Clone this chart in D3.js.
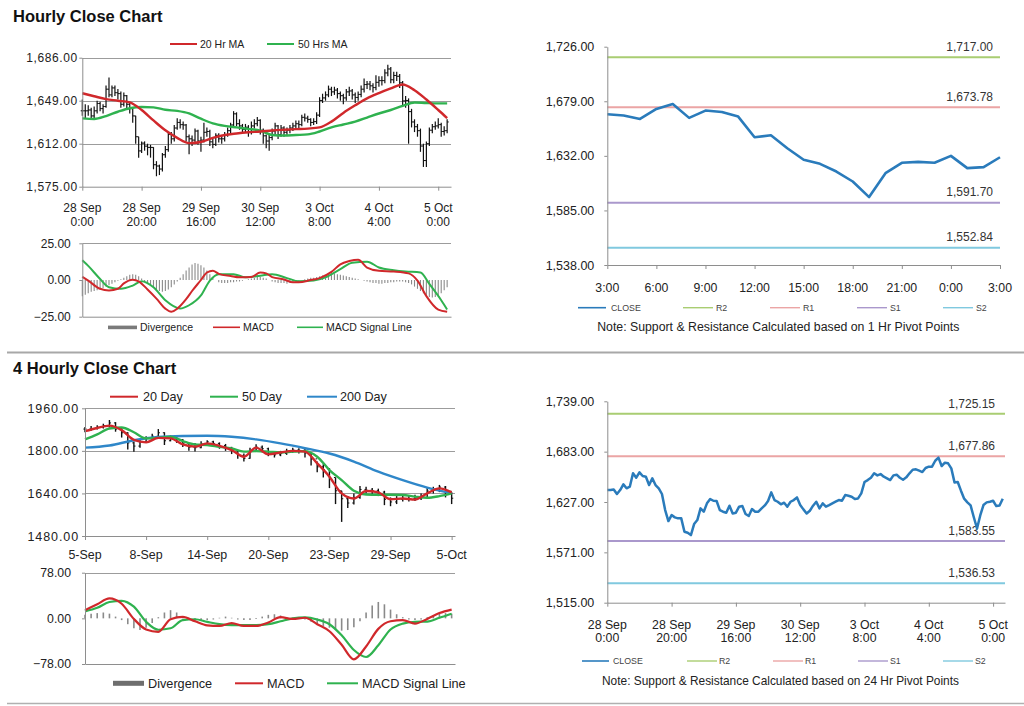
<!DOCTYPE html>
<html><head><meta charset="utf-8">
<script src="https://cdn.jsdelivr.net/npm/d3@7"></script>
<style>body{margin:0;background:#fff}svg{display:block}</style>
</head><body><svg id="chart" width="1024" height="706"></svg>
<script>
// ================= DATA =================
// Hourly bars 28 Sep 0:00 .. 5 Oct ~3:00 (shared by hourly chart and 24 Hr pivot chart)
const hourTickIdx = [0,20,40,60,80,100,120];
const hourTickDay = ["28 Sep","28 Sep","29 Sep","30 Sep","3 Oct","4 Oct","5 Oct"];
const hourTickTime = ["0:00","20:00","16:00","12:00","8:00","4:00","0:00"];
const hClose = [1640.3,1640.3,1641.0,1635.9,1640.3,1646.6,1642.2,1644.0,1658.9,1654.0,
1660.0,1655.9,1655.1,1645.9,1653.3,1645.9,1642.2,1635.9,1618.0,1605.8,
1612.5,1609.9,1608.8,1608.8,1593.9,1592.8,1590.2,1602.5,1606.9,1619.9,
1616.2,1625.5,1630.3,1628.4,1628.1,1618.0,1616.2,1615.1,1622.9,1614.3,
1615.1,1621.8,1622.5,1613.6,1611.4,1619.2,1616.2,1616.2,1619.9,1623.2,
1628.1,1637.7,1629.2,1627.3,1624.4,1626.2,1621.8,1627.3,1629.2,1632.1,
1623.6,1618.8,1614.3,1617.3,1622.9,1627.3,1619.9,1625.5,1621.8,1623.6,
1625.5,1627.3,1629.2,1628.4,1634.7,1634.0,1632.9,1630.3,1631.0,1636.6,
1649.2,1651.4,1654.0,1658.9,1656.6,1658.1,1655.1,1653.3,1651.4,1656.6,
1657.4,1654.0,1651.8,1654.4,1658.9,1662.9,1663.3,1661.8,1660.3,1664.8,
1666.3,1666.3,1672.9,1676.3,1667.0,1670.7,1670.0,1664.4,1648.8,1649.2,
1639.6,1630.7,1626.6,1623.2,1610.0,1597.5,1612.0,1623.6,1626.6,1627.3,
1628.4,1622.5,1623.2,1630.7];
const hHigh = [1650,1646,1645,1643,1644,1649,1648,1646,1662,1669,
1662,1662,1659,1657,1656,1654,1648,1643,1636,1618,
1614,1614,1612,1611,1609,1597,1594,1604,1610,1622,
1622,1628,1634,1633,1631,1629,1620,1619,1625,1624,
1618,1630,1626,1624,1616,1621,1621,1619,1622,1626,
1630,1640,1639,1633,1629,1629,1628,1631,1633,1635,
1633,1625,1620,1620,1625,1630,1628,1628,1627,1626,
1628,1630,1632,1632,1637,1638,1636,1634,1634,1639,
1652,1655,1657,1662,1661,1661,1660,1657,1655,1659,
1661,1659,1656,1657,1662,1668,1666,1666,1664,1671,
1670,1670,1676,1680,1678,1674,1674,1672,1666,1653,
1651,1642,1633,1629,1625,1612,1614,1626,1629,1631,
1634,1630,1627,1633];
const hLow = [1636,1634,1636,1633,1634,1638,1640,1638,1643,1652,
1652,1653,1650,1643,1644,1642,1638,1630,1612,1600,
1604,1606,1602,1600,1590,1584,1585,1588,1600,1605,
1612,1614,1624,1625,1624,1614,1603,1610,1613,1611,
1605,1613,1618,1610,1608,1610,1613,1612,1614,1618,
1621,1626,1627,1624,1621,1622,1618,1620,1625,1627,
1620,1612,1608,1606,1615,1620,1616,1618,1618,1619,
1621,1623,1625,1625,1627,1631,1630,1627,1628,1629,
1635,1647,1649,1652,1653,1654,1651,1649,1646,1649,
1653,1650,1647,1649,1652,1656,1659,1658,1656,1658,
1661,1662,1664,1670,1664,1664,1666,1660,1645,1643,
1612,1626,1622,1618,1605,1592,1592,1610,1621,1624,
1625,1618,1619,1621];
const maIdx = [0,4,8,12,16,20,24,28,32,36,40,44,48,52,56,60,64,68,72,76,80,84,88,92,96,100,104,108,112,116,120,123];
const ma20 = [1655.4,1652.8,1650.4,1649,1647.5,1641,1632,1623.5,1617,1612.5,1613.5,1617,1619.5,1620.8,1621.8,1622.5,
1623.4,1624,1624.5,1625,1626,1631,1638.5,1645,1651,1655.5,1659.5,1663,1658,1650,1641,1634];
const ma50 = [1633.8,1633.3,1635.8,1639.5,1642.5,1643.6,1643.3,1641.2,1640.2,1638,1633.5,1629.5,1627.3,1626,1624.8,1623.2,
1619.5,1619,1619.5,1620,1622.5,1626,1628.5,1631,1634.5,1638,1641,1644.5,1647.5,1647,1646.7,1646.7];
const hMacdIdx = [0,2,6,9,12,14,17,19,22,25,28,30,32,35,37,40,42,44,46,50,53,57,60,62,64,68,71,73,77,80,84,87,90,93,96,100,105,110,113,116,120,123];
const hMacd = [2.2,-0.4,-6,-7.1,-6,-2.3,0.2,-0.9,-6.5,-12.7,-19.5,-21.7,-19.5,-13,-7.5,0,5.1,6.3,4.2,2.7,1.8,2,5.1,4.5,2,0.4,-1.6,-1.6,0,1.3,5.5,10.7,12.9,13.8,8.5,6.3,5.8,4.5,-0.4,-11,-20.2,-21.7];
const hSigIdx = [0,2,6,9,13,17,20,24,28,33,36,40,43,46,51,55,60,64,69,73,78,82,87,91,96,100,105,109,114,117,121,123];
const hSig = [13.4,9.6,0.7,-4.9,-6,-3.8,-0.9,-5,-13.8,-19.4,-17.2,-10.5,-0.4,4,4,1.8,2.9,4,1.3,-0.9,-0.4,1.8,7.4,11.8,12.5,8.5,6.7,5.8,5.1,-2.7,-13.8,-20.1];
const hDiv = [-11,-10,-9,-8,-7.5,-7,-6.5,-5.5,-4.5,-3.5,-2.5,-1.5,-0.5,0.5,1.5,2.5,3.5,4,3.5,2.5,
1,-1,-2.5,-4,-5.5,-6.5,-7.5,-8,-7.5,-6.5,-5,-3,-1,1.5,4,6.5,8.5,10.5,11.5,11,
10,8.5,6.5,4,2,0,-1.5,-2,-2,-2,-1.5,-1.5,-1,-1,-0.5,0,0.5,1,1.5,2,
2,1.5,1,0,-1,-1.5,-2,-2,-2,-2.5,-2,-1.5,-1,-0.5,0,0.5,1,1.5,1.5,2,
2.5,3,3.5,4,4.5,4.5,4,3.5,3,2.5,2,1.5,1,0.5,0,-0.5,-1,-1.5,-2,-2,
-2.5,-2.5,-2,-2,-1.5,-1.5,-1,-1,-1,-1.5,-2,-3,-4.5,-6,-7.5,-9,-10.5,-11.5,-12,-11.5,
-10.5,-9,-7,-5];

// 1 Hr pivot chart (last 24 hours)
const pivotTicks = ["3:00","6:00","9:00","12:00","15:00","18:00","21:00","0:00","3:00"];
const pClose = [1667.8,1666.7,1663.8,1672.4,1676.7,1664.7,1671,1669.8,1665.8,1648,1649.8,1638.6,1628.6,
1625.1,1618.5,1609.9,1596.5,1617.1,1626,1626.8,1626,1632,1621.4,1622.3,1630.8];
const levelNames = ["R2","R1","S1","S2"];
const levels1h = [1717.00,1673.78,1591.70,1552.84];
const levels24h = [1725.15,1677.86,1583.55,1536.53];

// 4 Hourly chart
const fourTicks = ["5-Sep","8-Sep","14-Sep","20-Sep","23-Sep","29-Sep","5-Oct"];
const c4 = [1882,1884,1889,1895,1905,1882,1868,1830,1818,1834,1846,1855,1868,1838,1849,1842,1828,1814,1812,1826,
1834,1828,1820,1813,1800,1783,1772,1799,1814,1808,1788,1785,1790,1798,1803,1802,1792,1770,1740,1730,
1700,1650,1620,1604,1625,1655,1652,1650,1645,1618,1608,1618,1621,1620,1621,1624,1649,1652,1664,1648,1622];
const h4 = [1890,1893,1896,1902,1916,1908,1885,1870,1835,1845,1855,1864,1882,1870,1858,1852,1845,1826,1830,1836,
1840,1838,1832,1826,1815,1800,1790,1812,1825,1820,1812,1795,1800,1808,1812,1810,1808,1795,1760,1750,
1735,1700,1650,1630,1640,1668,1665,1660,1658,1650,1625,1630,1632,1632,1635,1640,1660,1665,1672,1668,1645];
const l4 = [1870,1876,1880,1884,1888,1872,1850,1805,1797,1812,1830,1842,1850,1822,1836,1830,1815,1800,1798,1810,
1822,1815,1808,1800,1788,1770,1760,1770,1800,1795,1780,1775,1780,1785,1793,1790,1775,1745,1720,1700,
1660,1600,1533,1585,1598,1620,1640,1638,1630,1596,1592,1600,1610,1610,1612,1615,1625,1640,1645,1625,1600];
const d20 = [1874,1886,1895,1878,1841,1832,1849,1847,1824,1816,1828,1819,1803,1778,1812,1787,1794,1800,1797,1753,
1703,1640,1621,1649,1644,1618,1621,1617,1640,1659,1644];
const d50 = [1843,1862,1884,1888,1870,1847,1849,1853,1837,1824,1822,1815,1809,1797,1799,1797,1794,1797,1799,1778,
1728,1690,1650,1636,1635,1635,1634,1628,1624,1630,1640];
const d200Idx = [0,4,8,12,16,20,24,28,32,36,40,44,48,52,56,60];
const d200 = [1812,1820,1840,1852,1856,1857,1853,1843,1828,1810,1790,1760,1722,1690,1662,1641];
const m4 = [14,24,34,25,-1,-19,-23,-1.5,2.5,-5,-12,-13,-8,-13,-13,-7,2,-1,1,-10,-22,-45,-70,-48,-18,-5,-3,-9,-1,9,15];
const s4 = [12,18,28,30,20,-6,-19.5,-17,-3,-1.5,-6,-10,-11.5,-11.5,-11.5,-10,-5,0,1.5,-2,-10,-29,-54,-66,-46,-19,-9,-6,-5.5,1,8];
const div4 = [6,8,9,10,8,3,-3,-10,-17,-20,-16,-8,2,10,14,10,3,-2,-4,-4,-3,-2,1,3,1,-2,-3,-3,-1,3,
6,7,5,2,1,0,-2,-6,-10,-13,-16,-19,-21,-20,-15,-5,10,22,28,24,15,7,2,-2,-3,-2,2,5,8,9,8];

// ================= STYLE =================
const F = '"Liberation Sans", Arial, Helvetica, sans-serif';
const AXIS = "#8e8e8e", GRID = "#9c9c9c", TXT = "#222";
const RED = "#d0282b", GREEN = "#2fb24f", BLUE = "#2f87c9", CLOSEC = "#2a7bbb", DIVC = "#8a8a8a";
const LEVELC = ["#a9cd72","#eba5a5","#aa98cc","#80c9df"];
const svg = d3.select("#chart");

function yAxis(x, y, ticks, fmt, fs, pad, ls) {
  const a = svg.append("g").attr("transform", `translate(${x},0)`)
    .call(d3.axisLeft(y).tickValues(ticks).tickFormat(fmt).tickSizeInner(3).tickSizeOuter(0).tickPadding(pad));
  a.select(".domain").attr("stroke", AXIS);
  a.selectAll(".tick line").attr("stroke", AXIS);
  a.selectAll(".tick text").attr("font-family", F).attr("font-size", fs).attr("fill", TXT).attr("letter-spacing", ls || 0);
  return a;
}
function xAxis(yPos, x, ticks, len) {
  const a = svg.append("g").attr("transform", `translate(0,${yPos})`)
    .call(d3.axisBottom(x).tickValues(ticks).tickFormat("").tickSizeInner(len).tickSizeOuter(0));
  a.select(".domain").attr("stroke", AXIS);
  a.selectAll(".tick line").attr("stroke", AXIS);
  return a;
}
function grid(x, y, vals) {
  const [x0, x1] = x.range();
  svg.append("g").selectAll("line").data(vals).join("line")
    .attr("x1", x0).attr("x2", x1).attr("y1", d => Math.round(y(d)) + 0.5).attr("y2", d => Math.round(y(d)) + 0.5)
    .attr("stroke", GRID).attr("stroke-width", 1);
}
function series(x, y, idx, vals, color, w, curve) {
  svg.append("path").datum(vals.map((v, k) => [idx[k], v]))
    .attr("fill", "none").attr("stroke", color).attr("stroke-width", w).attr("stroke-linejoin", "round")
    .attr("d", d3.line().x(d => x(d[0])).y(d => y(d[1])).curve(curve || d3.curveMonotoneX));
}
function bars(x, y, hi, lo, cl, w) {
  const g = svg.append("g").attr("stroke", "#111");
  g.selectAll("line.hl").data(cl).join("line").attr("class", "hl")
    .attr("x1", (d, i) => x(i)).attr("x2", (d, i) => x(i)).attr("y1", (d, i) => y(hi[i])).attr("y2", (d, i) => y(lo[i]))
    .attr("stroke-width", w);
  g.selectAll("line.cl").data(cl).join("line").attr("class", "cl")
    .attr("x1", (d, i) => x(i)).attr("x2", (d, i) => x(i) + 1.6).attr("y1", d => y(d)).attr("y2", d => y(d))
    .attr("stroke-width", 1);
  g.selectAll("line.op").data(cl).join("line").attr("class", "op")
    .attr("x1", (d, i) => x(i) - 1.6).attr("x2", (d, i) => x(i))
    .attr("y1", (d, i) => y(i ? cl[i - 1] : d)).attr("y2", (d, i) => y(i ? cl[i - 1] : d))
    .attr("stroke-width", 1);
}
function histogram(x, y, vals, w) {
  svg.append("g").selectAll("line").data(vals).join("line")
    .attr("x1", (d, i) => x(i)).attr("x2", (d, i) => x(i)).attr("y1", y(0)).attr("y2", d => y(d))
    .attr("stroke", DIVC).attr("stroke-width", w);
}
function text(x, y, s, fs, opts) {
  opts = opts || {};
  return svg.append("text").attr("x", x).attr("y", y).text(s).attr("font-family", F).attr("font-size", fs)
    .attr("fill", opts.fill || TXT).attr("text-anchor", opts.anchor || "start")
    .attr("font-weight", opts.bold ? "bold" : null).attr("letter-spacing", opts.ls || null);
}
function legendLine(x1, x2, y, color, w, tx, label, fs, fill) {
  svg.append("line").attr("x1", x1).attr("x2", x2).attr("y1", y).attr("y2", y).attr("stroke", color).attr("stroke-width", w);
  return text(tx, y, label, fs, { fill: fill }).attr("dy", "0.35em");
}
function xLabels2(x, idx, l1, l2, y1, y2, fs) {
  const g = svg.append("g").attr("font-family", F).attr("font-size", fs).attr("fill", TXT).attr("text-anchor", "middle");
  g.selectAll("text.a").data(idx).join("text").attr("class", "a").attr("x", d => x(d)).attr("y", y1).text((d, k) => l1[k]);
  g.selectAll("text.b").data(idx).join("text").attr("class", "b").attr("x", d => x(d)).attr("y", y2).text((d, k) => l2[k]);
}

// ================= PAGE FRAME =================
svg.append("rect").attr("width", 1024).attr("height", 706).attr("fill", "#fff");
text(13, 22, "Hourly Close Chart", 16.5, { bold: true, fill: "#111" });
text(13, 374, "4 Hourly Close Chart", 16.5, { bold: true, fill: "#111" });
svg.append("line").attr("x1", 7).attr("x2", 1024).attr("y1", 352.5).attr("y2", 352.5).attr("stroke", "#a8a8a8").attr("stroke-width", 2);
svg.append("line").attr("x1", 7).attr("x2", 1024).attr("y1", 703.5).attr("y2", 703.5).attr("stroke", "#b0b0b0").attr("stroke-width", 1.5);

const fmtC = d3.format(",.2f"), fmtP = d3.format(".2f");

// ================= HOURLY CLOSE CHART (top-left) =================
{
  const x = d3.scaleLinear().domain([0, 124.3]).range([82.3, 451]);
  const y = d3.scaleLinear().domain([1575, 1686]).range([186.7, 57.7]);
  grid(x, y, [1612, 1649, 1686]);
  bars(x, y, hHigh, hLow, hClose, 1.2);
  series(x, y, maIdx, ma50, GREEN, 2.4);
  series(x, y, maIdx, ma20, RED, 2.4);
  yAxis(82.3, y, [1575, 1612, 1649, 1686], fmtC, 12, 1.5, 0.6);
  xAxis(186.7, x, hourTickIdx, 4);
  xLabels2(x, hourTickIdx, hourTickDay, hourTickTime, 211.5, 225.5, 12);
  legendLine(170, 197, 44, RED, 2, 200, "20 Hr MA", 10.5);
  legendLine(267, 294, 44, GREEN, 2, 298, "50 Hrs MA", 10.5);

  // MACD
  const ym = d3.scaleLinear().domain([-25, 25]).range([316.7, 243.3]);
  grid(x, ym, [25]);
  histogram(x, ym, hDiv, 1.1);
  series(x, ym, hSigIdx, hSig, GREEN, 2);
  series(x, ym, hMacdIdx, hMacd, RED, 2);
  yAxis(82.3, ym, [-25, 0, 25], fmtP, 12, 8.5);
  xAxis(316.7, x, [], 0);
  svg.append("rect").attr("x", 108).attr("y", 325.6).attr("width", 29).attr("height", 3.6).attr("fill", "#7a7a7a");
  text(140, 327.3, "Divergence", 10.5).attr("dy", "0.35em");
  legendLine(213, 240, 327.3, RED, 1.6, 243, "MACD", 10.5);
  legendLine(297, 323, 327.3, GREEN, 1.6, 326, "MACD Signal Line", 10.5);
}

// ================= 1 HR PIVOT CHART (top-right) =================
{
  const x = d3.scaleLinear().domain([0, 24]).range([607.3, 1000]);
  const y = d3.scaleLinear().domain([1538, 1726]).range([265, 46.7]);
  svg.append("g").selectAll("line").data(levels1h).join("line")
    .attr("x1", 607.3).attr("x2", 1000).attr("y1", d => y(d)).attr("y2", d => y(d))
    .attr("stroke", (d, i) => LEVELC[i]).attr("stroke-width", 2);
  svg.append("g").selectAll("text").data(levels1h).join("text")
    .attr("x", 993).attr("y", d => y(d) - 6.5).attr("text-anchor", "end")
    .attr("font-family", F).attr("font-size", 12).attr("fill", "#333").text(d => fmtC(d));
  series(x, y, d3.range(pClose.length), pClose, CLOSEC, 2.6, d3.curveLinear);
  yAxis(607.3, y, [1538, 1585, 1632, 1679, 1726], fmtC, 12.5, 10);
  xAxis(265, x, d3.range(0, 25, 3), 4);
  svg.append("g").selectAll("text").data(pivotTicks).join("text")
    .attr("x", (d, k) => x(k * 3)).attr("y", 291.5).attr("text-anchor", "middle")
    .attr("font-family", F).attr("font-size", 12.3).attr("fill", TXT).text(d => d);
  legendLine(578, 606, 307.7, CLOSEC, 1.6, 611, "CLOSE", 8.8, "#444");
  const lx = [683, 770, 857, 943];
  levelNames.forEach((n, i) => legendLine(lx[i], lx[i] + 30, 307.7, LEVELC[i], 1.4, lx[i] + 33, n, 8.8, "#444"));
  text(778.3, 331, "Note: Support & Resistance Calculated based on 1 Hr Pivot Points", 12.3, { anchor: "middle" });
}

// ================= 24 HR PIVOT CHART (bottom-right) =================
{
  const x = d3.scaleLinear().domain([0, 123.7]).range([607.3, 1005]);
  const y = d3.scaleLinear().domain([1515, 1739]).range([602.7, 401.3]);
  svg.append("g").selectAll("line").data(levels24h).join("line")
    .attr("x1", 607.3).attr("x2", 1005).attr("y1", d => y(d)).attr("y2", d => y(d))
    .attr("stroke", (d, i) => LEVELC[i]).attr("stroke-width", 2);
  svg.append("g").selectAll("text").data(levels24h).join("text")
    .attr("x", 995).attr("y", d => y(d) - 6).attr("text-anchor", "end")
    .attr("font-family", F).attr("font-size", 12).attr("fill", "#333").text(d => fmtC(d));
  series(x, y, d3.range(hClose.length), hClose, CLOSEC, 2.5, d3.curveLinear);
  yAxis(607.3, y, [1515, 1571, 1627, 1683, 1739], fmtC, 12.5, 10);
  xAxis(602.7, x, hourTickIdx, 4);
  xLabels2(x, hourTickIdx, hourTickDay, hourTickTime, 628.5, 642, 12.3);
  legendLine(582, 609, 661, CLOSEC, 1.6, 613, "CLOSE", 8.8, "#444");
  const lx = [687, 773, 858, 943];
  levelNames.forEach((n, i) => legendLine(lx[i], lx[i] + 30, 661, LEVELC[i], 1.4, lx[i] + 32, n, 8.8, "#444"));
  text(780.5, 685, "Note: Support & Resistance Calculated based on 24 Hr Pivot Points", 11.9, { anchor: "middle" });
}

// ================= 4 HOURLY CLOSE CHART (bottom-left) =================
{
  const x = d3.scaleLinear().domain([0, 60.55]).range([85, 455]);
  const y = d3.scaleLinear().domain([1480, 1960]).range([536, 408.3]);
  grid(x, y, [1640, 1800, 1960]);
  bars(x, y, h4, l4, c4, 1.4);
  const even = d3.range(0, 61, 2);
  series(x, y, d200Idx, d200, BLUE, 2.4);
  series(x, y, even, d50, GREEN, 2.4);
  series(x, y, even, d20, RED, 2.4);
  yAxis(85, y, [1480, 1640, 1800, 1960], fmtP, 12.5, 3, 0.9);
  xAxis(536, x, d3.range(0, 61, 10), 4);
  svg.append("g").selectAll("text").data(fourTicks).join("text")
    .attr("x", (d, k) => x(k * 10)).attr("y", 559).attr("text-anchor", "middle")
    .attr("font-family", F).attr("font-size", 12.4).attr("fill", TXT).text(d => d);
  legendLine(110, 138, 396.7, RED, 2, 143, "20 Day", 12.6);
  legendLine(210, 238, 396.7, GREEN, 2, 242, "50 Day", 12.6);
  legendLine(307, 337, 396.7, BLUE, 2, 340, "200 Day", 12.6);

  // MACD
  const ym = d3.scaleLinear().domain([-78, 78]).range([664, 572.7]);
  grid(x, ym, [78]);
  histogram(x, ym, div4, 1.6);
  series(x, ym, even, s4, GREEN, 2.2);
  series(x, ym, even, m4, RED, 2.2);
  yAxis(85, ym, [-78, 0, 78], fmtP, 12.3, 11);
  xAxis(664, x, [], 0);
  svg.append("rect").attr("x", 113).attr("y", 680.8).attr("width", 31).attr("height", 5).attr("fill", "#6e6e6e");
  text(148, 683.3, "Divergence", 12.7).attr("dy", "0.35em");
  legendLine(235, 263, 683.3, RED, 2, 267, "MACD", 12.7);
  legendLine(327, 358, 683.3, GREEN, 2, 362, "MACD  Signal Line", 12.7);
}
</script></body></html>
